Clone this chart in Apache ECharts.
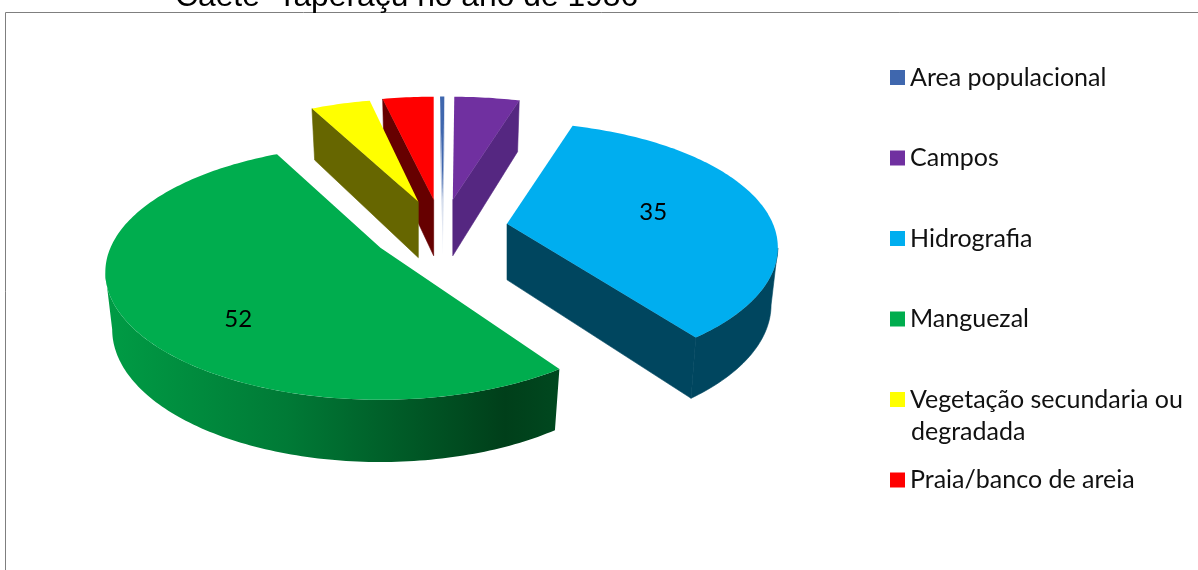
<!DOCTYPE html>
<html>
<head>
<meta charset="utf-8">
<style>html,body{margin:0;padding:0;background:#fff}#chart{width:1198px;height:570px}</style>
<script src="https://cdn.jsdelivr.net/npm/echarts@6/dist/echarts.min.js"></script>
</head>
<body>
<div id="chart"></div>
<script>
// Land cover shares, percent
const categories = ['Area populacional', 'Campos', 'Hidrografia', 'Manguezal', 'Vegetação secundaria ou degradada', 'Praia/banco de areia'];
const shares = [0.3, 4.6, 35, 52, 4.2, 3.6];
const labelledShares = [35, 52];

const topColors = ['#3F67AE', '#7030A0', '#00AEEF', '#00AD4E', '#FFFF00', '#FF0000'];
const faceColors = ['#C9D4E8', '#552781', '#00465F', '#00602B', '#666600', '#660000'];

// Slice pull-out distance, small angular rotation and radius factor used when drawing
const explodeBy = [65, 65, 65, 75, 65, 65];
const rotateBy = [0, 0, 0, 3.2, 2.4, 1.78];
const radiusBy = [1, 1, 0.985, 1, 1, 1];

// Projection of the tilted pie onto the canvas
const view = {
  cx: 443, cy: 229, radius: 270, flatten: 0.4548, perspective: 0.192,
  depth: 56, depthSkew: 0.1, baseShrink: 0.975, firstAngle: -0.7
};
const font = '25px Lato, sans-serif';
const rad = d => d * Math.PI / 180;

// Screen position of the point at angle `deg`, fraction `r` of the radius from the slice apex
function rimPoint(apex, deg, r, lowered) {
  const s = Math.sin(rad(deg)), c = Math.cos(rad(deg));
  const w = 1 + view.perspective * r * c;
  const shrink = lowered ? view.baseShrink : 1;
  const drop = lowered ? view.depth / (1 + view.depthSkew * r * c) : 0;
  return [
    apex[0] + shrink * view.radius * r * s / w,
    apex[1] - view.radius * view.flatten * r * c / w + drop
  ];
}

function sliceApex(mid, explode) {
  return [
    view.cx + explode * Math.sin(rad(mid)),
    view.cy - explode * view.flatten * Math.cos(rad(mid))
  ];
}

function renderSlice(idx) {
  return function (params, api) {
    const a0 = api.value(0) + rotateBy[idx], a1 = api.value(1) + rotateBy[idx], value = api.value(2);
    const mid = (a0 + a1) / 2;
    const apex = sliceApex(mid - rotateBy[idx], explodeBy[idx]);
    const k = radiusBy[idx];
    const children = [];

    const arc = (from, to, lowered) => {
      const n = Math.max(2, Math.ceil(Math.abs(to - from)));
      const pts = [];
      for (let i = 0; i <= n; i++) pts.push(rimPoint(apex, from + (to - from) * i / n, k, lowered));
      return pts;
    };

    // Cut faces that turn toward the viewer
    const face = (deg, fill, edge) => {
      const top = rimPoint(apex, deg, k, false), low = rimPoint(apex, deg, k, true);
      const lowApex = rimPoint(apex, deg, 0, true);
      children.push({
        type: 'polygon',
        shape: { points: [apex, top, low, lowApex] },
        style: { fill, stroke: edge, lineWidth: edge ? 0.6 : 0 }
      });
    };
    const sideFill = idx === 0
      ? new echarts.graphic.LinearGradient(0, 0, 0, 1, [
          { offset: 0, color: '#7F97C6' }, { offset: 1, color: '#F4F6FA' }])
      : faceColors[idx];
    const sideEdge = idx === 0 ? null : faceColors[idx];
    if (Math.sin(rad(a0)) < 0) face(a0, sideFill, sideEdge);
    if (Math.sin(rad(a1)) > 0) face(a1, sideFill, sideEdge);

    // Outer wall along the part of the rim facing the viewer
    const silhouette = 180 - Math.acos(view.perspective) * 180 / Math.PI;
    const w0 = Math.max(a0, silhouette), w1 = Math.min(a1, 360 - silhouette);
    if (w1 > w0) {
      const wallFill = idx === 3
        ? new echarts.graphic.LinearGradient(0, 0, 1, 0, [
            { offset: 0, color: '#009C45' }, { offset: 0.4, color: '#007A36' },
            { offset: 0.88, color: '#003F1A' }, { offset: 1, color: '#00481F' }])
        : faceColors[idx];
      children.push({
        type: 'polygon',
        shape: { points: arc(w0, w1, false).concat(arc(w1, w0, true)) },
        style: { fill: wallFill, stroke: idx === 3 ? null : faceColors[idx], lineWidth: idx === 3 ? 0 : 0.6 }
      });
    }

    // Top surface
    children.push({
      type: 'polygon',
      shape: { points: [apex].concat(arc(a0, a1, false)) },
      style: { fill: topColors[idx] }
    });

    // Value label on the two large slices
    if (labelledShares.includes(value)) {
      const place = idx === 2 ? { r: 0.56, shift: 0 } : { r: 0.705, shift: -17.5 };
      const p = rimPoint(apex, mid + place.shift, place.r, false);
      children.push({
        type: 'text',
        style: { text: String(value), x: p[0], y: p[1], fill: '#000', font: '24px Lato, sans-serif', align: 'center', verticalAlign: 'middle' }
      });
    }
    return { type: 'group', children };
  };
}

// Turn the shares into angular spans, clockwise from the top
let running = view.firstAngle;
const spans = shares.map(v => {
  const from = running;
  running += v * 3.6;
  return [from, running, v];
});

// Far slices first so nearer ones paint over them
const order = [0, 1, 5, 4, 2, 3];
const series = order.map(i => ({
  type: 'custom',
  name: categories[i],
  coordinateSystem: 'none',
  renderItem: renderSlice(i),
  itemStyle: { color: topColors[i] },
  data: [spans[i]],
  silent: true
}));

const chart = echarts.init(document.getElementById('chart'), null, { renderer: 'canvas' });
chart.setOption({
  animation: false,
  backgroundColor: '#fff',
  legend: {
    orient: 'vertical',
    left: 890,
    top: 62.5,
    padding: 0,
    icon: 'rect',
    itemWidth: 15,
    itemHeight: 15,
    itemGap: 50.5,
    selectedMode: false,
    data: categories,
    formatter: n => n.replace(' degradada', ''),
    textStyle: { fontFamily: 'Lato, sans-serif', fontSize: 25, color: '#111', lineHeight: 30 }
  },
  graphic: [
    {
      type: 'polyline', silent: true,
      shape: { points: [[5.5, 570], [5.5, 12.5], [1198, 12.5]] },
      style: { stroke: '#7F7F7F', lineWidth: 1, fill: null }
    },
    {
      type: 'text', silent: true, left: 175, top: -19,
      style: { text: 'Caete  Taperaçu no ano de 1986', font: '31.8px "Liberation Sans", Arial, sans-serif', fill: '#000' }
    },
    {
      type: 'text', silent: true, left: 911, top: 419,
      style: { text: 'degradada', font, fill: '#111' }
    }
  ],
  series
});
</script>
</body>
</html>
